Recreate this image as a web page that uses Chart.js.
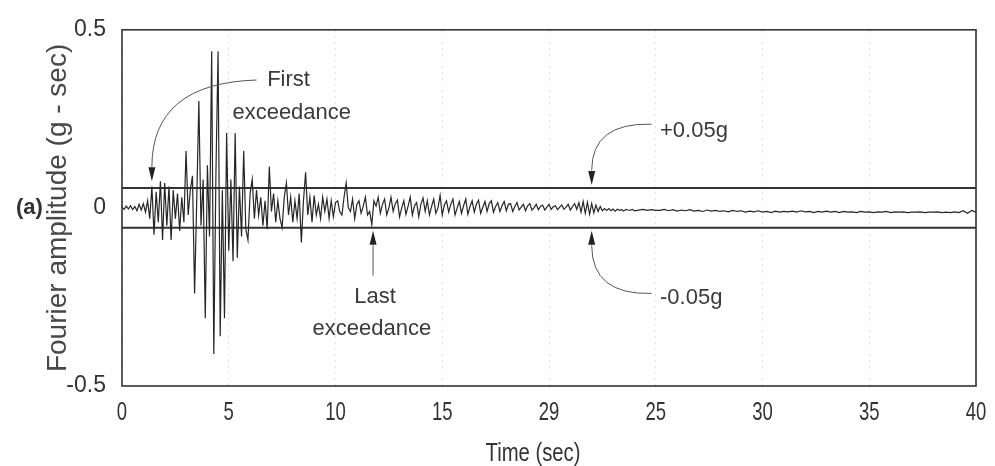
<!DOCTYPE html>
<html>
<head>
<meta charset="utf-8">
<script src="https://cdn.jsdelivr.net/npm/chart.js@4.4.1/dist/chart.umd.min.js"></script>
<style>
  html, body { margin: 0; padding: 0; background: #fff; }
  #wrap { width: 995px; height: 466px; position: relative; }
</style>
</head>
<body>
<div id="wrap"><canvas id="chartPic" width="995" height="466"></canvas></div>
<script>
// record, in g, split in pieces with their own time step
const preStart = 0, preStep = 0.1;
const preEvent = [0.002, -0.004, 0.005, -0.003, 0.006, -0.005, 0.004, -0.008, 0.01, -0.006, 0.012];

const strongStart = 1.1, strongStep = 0.1;
const strongMotion = [
    -0.012, 0.02, -0.03, 0.06, -0.075, 0.045, -0.04, 0.075, -0.09, 0.07,
    -0.05, 0.06, -0.09, 0.05, -0.03, 0.04, -0.065, 0.03, -0.04, 0.16,
    -0.02, 0.05, 0.09, -0.24, 0.02, 0.30, -0.05, 0.08, -0.31, 0.12,
    -0.08, 0.44, -0.41, 0.10, 0.44, -0.36, 0.05, -0.31, 0.21, -0.12,
    0.08, -0.15, 0.21, -0.14, 0.06, -0.08, 0.16, -0.06, -0.09, 0.04,
    0.08, -0.03, 0.05, -0.02, 0.03, -0.05, 0.02, -0.06, 0.116, -0.01,
    0.04, -0.04, 0.02, -0.03, -0.055, 0.03, 0.07, -0.02, 0.03, -0.04,
    0.02, -0.03, 0.04, -0.097, 0.02, 0.10, -0.02, 0.03, -0.04, 0.035,
    -0.02, 0.01, -0.03, 0.03, -0.01, 0.025, -0.03, 0.02, -0.025, 0.015
];

const codaStart = 10.1, codaStep = 0.1;
const coda = [
    0.02, -0.01, -0.02, 0.03, 0.07, 0.0, -0.01, 0.025, -0.03, 0.01,
    0.02, -0.015, 0.005, 0.03, -0.02, -0.01, -0.047, 0.02, 0.005, 0.03,
    -0.015, 0.01, 0.025, -0.02, 0.0, 0.03, -0.01, 0.012, 0.022, -0.025,
    0.0, 0.02, -0.018, 0.005, 0.03, -0.02, 0.006, 0.015, -0.025, 0.01,
    0.028, -0.01, 0.02, -0.02, 0.004, 0.025, -0.015, 0.0, 0.035, -0.02,
    0.008, 0.02, -0.012, 0.01, 0.025, -0.02, 0.0, 0.018, -0.015, 0.006,
    0.025, -0.018, 0.004, 0.02, -0.012, 0.01, 0.022, -0.015, 0.002, 0.018,
    -0.01, 0.012, 0.02, -0.012, 0.004, 0.015, -0.01, 0.006, 0.018, -0.008,
    0.01, 0.012, -0.01, 0.004, 0.015, -0.006, 0.002, 0.01, -0.008, 0.006,
    0.012, -0.006, 0.0, 0.01, -0.005, 0.004, 0.008, -0.006, 0.002, 0.01,
    -0.004, 0.003, 0.006, -0.005, 0.002, 0.008, -0.004, 0.002, 0.01, -0.006,
    0.004, 0.012, -0.004, 0.015, -0.012, 0.018, -0.015, 0.016, -0.018, 0.012,
    -0.014, 0.008, -0.01, 0.004, -0.008, -0.002, -0.007, -0.002, -0.008, -0.003,
    -0.009, -0.004, -0.007, -0.005, -0.009, -0.004, -0.006, -0.007, -0.004, -0.008
];

const tailStart = 24.2, tailStep = 0.2;
const tail = [
    -0.006, -0.004, -0.007, -0.005, -0.007,
    -0.007, -0.004, -0.008, -0.005, -0.009, -0.006, -0.008, -0.005, -0.009, -0.007,
    -0.01, -0.006, -0.009, -0.007, -0.01, -0.008, -0.011, -0.007, -0.01, -0.008,
    -0.012, -0.009, -0.011, -0.008, -0.012, -0.01, -0.013, -0.009, -0.012, -0.01,
    -0.011, -0.009, -0.012, -0.008, -0.011, -0.01, -0.013, -0.01, -0.012, -0.009,
    -0.012, -0.01, -0.013, -0.01, -0.012, -0.011, -0.013, -0.01, -0.012, -0.011,
    -0.013, -0.011, -0.012, -0.01, -0.013, -0.011, -0.012, -0.011, -0.013, -0.012,
    -0.012, -0.011, -0.013, -0.012, -0.012, -0.011, -0.013, -0.012, -0.013, -0.011,
    -0.013, -0.008, -0.015, -0.007, -0.012
];

const threshold = 0.056;   // drawn "±0.05g" band
const timeRange = [0, 40];
const xTickLabels = ['0', '5', '10', '15', '29', '25', '30', '35', '40'];
const yTickLabels = {'-0.5': '-0.5', '0': '0', '0.5': '0.5'};

function toPoints(start, step, values) {
    return values.map(function (v, i) {
        return {x: +(start + i * step).toFixed(3), y: v};
    });
}

const record = []
    .concat(toPoints(preStart, preStep, preEvent))
    .concat(toPoints(strongStart, strongStep, strongMotion))
    .concat(toPoints(codaStart, codaStep, coda))
    .concat(toPoints(tailStart, tailStep, tail));

const textFont = '22px "Liberation Sans", Arial, sans-serif';
const textColor = '#3a3a3a';

// callouts, in data units (time, g)
const notes = [
    {text: 'First', t: 7.8, v: 0.359, align: 'center'},
    {text: 'exceedance', t: 7.95, v: 0.268, align: 'center'},
    {text: 'Last', t: 11.85, v: -0.249, align: 'center'},
    {text: 'exceedance', t: 11.7, v: -0.34, align: 'center'},
    {text: '+0.05g', t: 25.2, v: 0.215, align: 'left'},
    {text: '-0.05g', t: 25.2, v: -0.252, align: 'left'}
];
const arrows = [
    {from: [6.3, 0.359], ctrl: [1.4, 0.35], to: [1.4, 0.115], tip: [1.4, 0.075]},
    {from: [11.76, -0.19], ctrl: null, to: [11.76, -0.105], tip: [11.76, -0.064]},
    {from: [24.8, 0.235], ctrl: [22.0, 0.24], to: [22.0, 0.105], tip: [22.0, 0.064]},
    {from: [24.8, -0.24], ctrl: [22.0, -0.245], to: [22.0, -0.105], tip: [22.0, -0.064]}
];

// narrow face like the print: regular face squeezed sideways
function narrowText(ctx, text, x, y, squeeze) {
    ctx.save();
    ctx.translate(x, y);
    ctx.scale(squeeze, 1);
    ctx.fillText(text, 0, 0);
    ctx.restore();
}

const annotate = {
    id: 'annotate',
    beforeDatasetsDraw: function (chart) {
        const a = chart.chartArea, ctx = chart.ctx;
        ctx.save();
        ctx.strokeStyle = '#333';
        ctx.lineWidth = 1.6;
        ctx.strokeRect(a.left, a.top, a.right - a.left, a.bottom - a.top);
        ctx.restore();
    },
    afterDatasetsDraw: function (chart) {
        const xs = chart.scales.x, ys = chart.scales.y, ctx = chart.ctx, a = chart.chartArea;
        const px = function (p) { return [xs.getPixelForValue(p[0]), ys.getPixelForValue(p[1])]; };
        ctx.save();
        ctx.strokeStyle = '#555';
        ctx.fillStyle = '#222';
        ctx.lineWidth = 1;
        arrows.forEach(function (ar) {
            const f = px(ar.from), e = px(ar.to), tp = px(ar.tip);
            ctx.beginPath();
            ctx.moveTo(f[0], f[1]);
            if (ar.ctrl) {
                const c = px(ar.ctrl);
                ctx.quadraticCurveTo(c[0], c[1], e[0], e[1]);
            } else {
                ctx.lineTo(e[0], e[1]);
            }
            ctx.stroke();
            const dir = tp[1] > e[1] ? 1 : -1;
            ctx.beginPath();
            ctx.moveTo(tp[0], tp[1]);
            ctx.lineTo(tp[0] - 3.5, tp[1] - dir * 14);
            ctx.lineTo(tp[0] + 3.5, tp[1] - dir * 14);
            ctx.closePath();
            ctx.fill();
        });
        ctx.font = textFont;
        ctx.fillStyle = textColor;
        ctx.textBaseline = 'middle';
        notes.forEach(function (n) {
            const p = px([n.t, n.v]);
            ctx.textAlign = n.align;
            ctx.fillText(n.text, p[0], p[1]);
        });

        // x tick labels and title, narrow print face
        ctx.fillStyle = '#333';
        ctx.textAlign = 'center';
        ctx.textBaseline = 'alphabetic';
        ctx.font = '25px "Liberation Sans", Arial, sans-serif';
        xs.ticks.forEach(function (tk) {
            const label = xTickLabels[Math.round(tk.value / 5)];
            narrowText(ctx, label, xs.getPixelForValue(tk.value), a.bottom + 34, 0.74);
        });
        ctx.font = '26px "Liberation Sans", Arial, sans-serif';
        narrowText(ctx, 'Time (sec)', (a.left + a.right) / 2 - 16, a.bottom + 75, 0.78);

        // panel tag
        ctx.font = 'bold 22px "Liberation Sans", Arial, sans-serif';
        ctx.textAlign = 'left';
        ctx.textBaseline = 'middle';
        ctx.fillText('(a)', 16, ys.getPixelForValue(0));
        ctx.restore();
    }
};

const ctx = document.getElementById('chartPic');
const myChart = new Chart(ctx, {
    type: 'line',
    data: {
        datasets: [
            {
                label: 'record',
                data: record,
                borderColor: '#262626',
                borderWidth: 1.2,
                pointRadius: 0,
                tension: 0
            },
            {
                label: '+0.05g',
                data: [{x: timeRange[0], y: threshold}, {x: timeRange[1], y: threshold}],
                borderColor: '#333',
                borderWidth: 2,
                pointRadius: 0
            },
            {
                label: '-0.05g',
                data: [{x: timeRange[0], y: -threshold}, {x: timeRange[1], y: -threshold}],
                borderColor: '#333',
                borderWidth: 2,
                pointRadius: 0
            }
        ]
    },
    options: {
        responsive: false,
        animation: false,
        layout: {padding: {top: 24, right: 19, left: 0, bottom: 0}},
        scales: {
            x: {
                type: 'linear',
                min: timeRange[0],
                max: timeRange[1],
                afterFit: function (axis) { axis.height = 80; },
                ticks: {
                    stepSize: 5,
                    display: false
                },
                grid: {
                    color: 'rgba(0, 0, 0, 0.13)',
                    drawTicks: false
                },
                border: {display: false, dash: [2, 4]}
            },
            y: {
                min: -0.5,
                max: 0.5,
                afterFit: function (axis) { axis.width = 122; },
                ticks: {
                    stepSize: 0.5,
                    padding: 16,
                    color: '#333',
                    font: {size: 23, family: '"Liberation Sans", Arial, sans-serif'},
                    callback: function (value) { return yTickLabels[String(value)]; }
                },
                grid: {display: false, drawTicks: false},
                border: {display: false},
                title: {
                    display: true,
                    text: 'Fourier amplitude (g - sec)',
                    color: '#484848',
                    font: {size: 28, family: '"Liberation Sans", Arial, sans-serif'},
                    padding: {top: 41, bottom: 0}
                }
            }
        },
        plugins: {
            legend: {display: false},
            tooltip: {enabled: false}
        }
    },
    plugins: [annotate]
});
</script>
</body>
</html>
